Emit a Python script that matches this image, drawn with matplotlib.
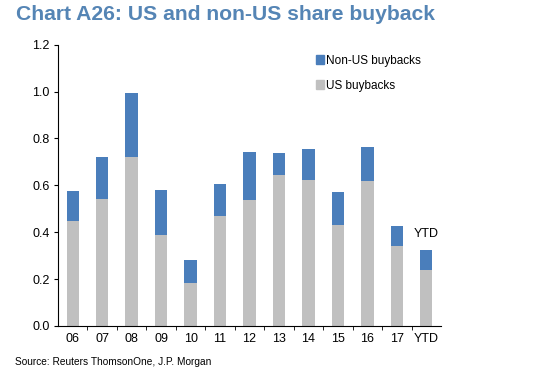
import matplotlib as mpl

mpl.use("Agg")

import matplotlib.pyplot as plt
import numpy as np
from matplotlib.patches import Patch

plt.rcParams["font.family"] = ["Liberation Sans", "DejaVu Sans"]

categories = ["06", "07", "08", "09", "10", "11", "12", "13", "14", "15", "16", "17", "YTD"]
us_buybacks = [0.448, 0.542, 0.720, 0.387, 0.182, 0.469, 0.536, 0.645, 0.624, 0.429, 0.620, 0.342, 0.239]
total_buybacks = [0.577, 0.722, 0.993, 0.579, 0.281, 0.607, 0.741, 0.739, 0.755, 0.570, 0.763, 0.426, 0.324]
non_us_buybacks = [t - u for t, u in zip(total_buybacks, us_buybacks)]

BLUE = "#4a7ebb"
GRAY = "#c0c0c0"
TITLE_BLUE = "#5585b5"

fig = plt.figure(figsize=(5.38, 3.79), dpi=100)
ax = fig.add_axes([58 / 538, 1 - 326 / 379, (441 - 58) / 538, (326 - 44.7) / 379])

x = np.arange(len(categories))
ax.bar(x, us_buybacks, width=0.42, color=GRAY, linewidth=0)
ax.bar(x, non_us_buybacks, width=0.42, bottom=us_buybacks, color=BLUE, linewidth=0)

ax.set_xlim(-0.5, len(categories) - 0.5)
ax.set_ylim(0, 1.2)
ax.set_yticks(np.arange(0, 1.21, 0.2))
ax.set_yticklabels([f"{v:.1f}" for v in np.arange(0, 1.21, 0.2)], fontsize=9)
ax.set_xticks(x)
ax.set_xticklabels(categories, fontsize=9)
ax.set_xticks(x[:-1] + 0.5, minor=True)
ax.tick_params(axis="x", which="major", length=0, pad=5)
ax.tick_params(axis="x", which="minor", length=3, direction="out")
ax.tick_params(axis="y", length=3, direction="out", pad=3)

for side in ("top", "right"):
    ax.spines[side].set_visible(False)

ax.text(len(categories) - 1, total_buybacks[-1] + 0.045, "YTD", ha="center", va="bottom", fontsize=9)

handles = [Patch(color=BLUE, label="Non-US buybacks"), Patch(color=GRAY, label="US buybacks")]
fig.legend(
    handles=handles,
    loc="upper left",
    bbox_to_anchor=(305 / 538, 1 - 44 / 379),
    frameon=False,
    fontsize=8.5,
    handlelength=0.7,
    handleheight=0.7,
    handletextpad=0.15,
    labelspacing=1.1,
)

fig.text(16 / 538, 1 - 14 / 379, "Chart A26: US and non-US share buyback",
         fontsize=15.2, fontweight="bold", color=TITLE_BLUE, va="center", ha="left")
fig.text(15 / 538, 1 - 362 / 379, "Source: Reuters ThomsonOne, J.P. Morgan",
         fontsize=7.3, va="center", ha="left")

fig.savefig("out.png", dpi=100)
plt.close(fig)
